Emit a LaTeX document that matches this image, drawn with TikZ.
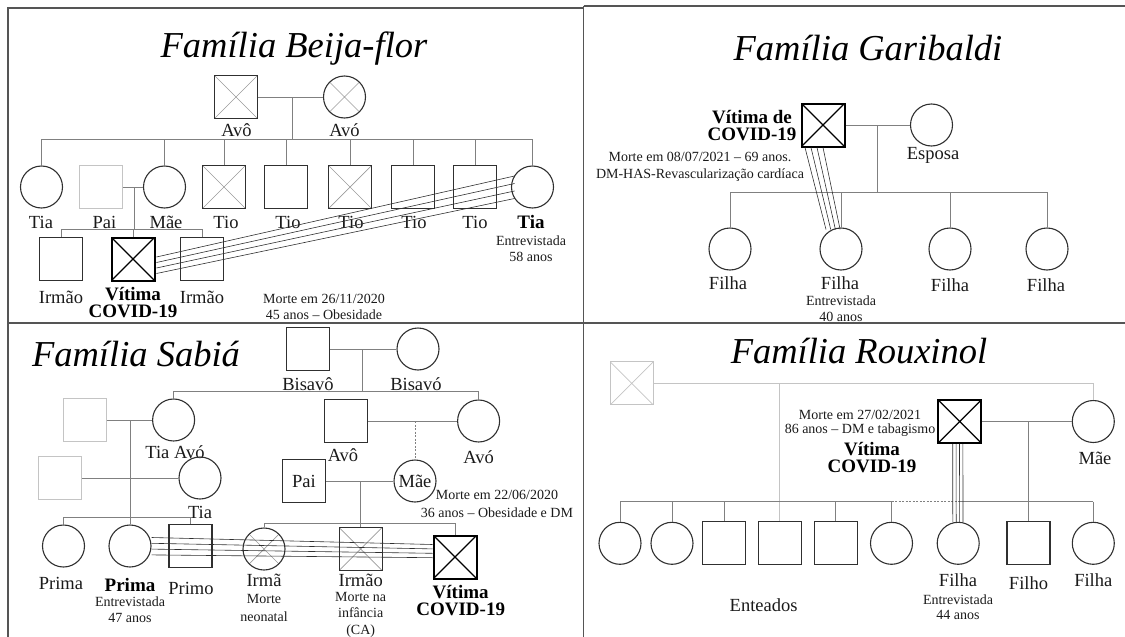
\documentclass[tikz,border=0pt]{standalone}
\usepackage{fontspec}
\setmainfont{Liberation Serif}
\usepackage{tikz}
\usetikzlibrary{calc}
\definecolor{kingray}{HTML}{808080}
\definecolor{fadegray}{HTML}{C4C4C4}
\definecolor{crossgray}{HTML}{9A9A9A}
\definecolor{shapeedge}{HTML}{303030}
\definecolor{panelgray}{HTML}{555555}
\definecolor{inkdark}{HTML}{1A1A1A}

\begin{document}
\begin{tikzpicture}[x=1pt, y=-1pt,
  male/.style={draw=shapeedge, line width=1.1pt, minimum width=43pt, minimum height=43pt, inner sep=0pt},
  female/.style={draw=shapeedge, line width=1.1pt, circle, minimum size=42pt, inner sep=0pt},
  faded/.style={draw=fadegray},
  deceased/.style={path picture={\draw[#1, line width=0.7pt]
      (path picture bounding box.north west) -- (path picture bounding box.south east)
      (path picture bounding box.north east) -- (path picture bounding box.south west);}},
  deceased/.default=crossgray,
  victim/.style={draw=black, line width=2pt, path picture={\draw[black, line width=1.2pt]
      (path picture bounding box.north west) -- (path picture bounding box.south east)
      (path picture bounding box.north east) -- (path picture bounding box.south west);}},
  kin/.style={draw=kingray, line width=0.9pt},
  kinfaded/.style={draw=fadegray, line width=0.9pt},
  consang/.style={draw=shapeedge, line width=0.6pt},
  lbl/.style={font=\fontsize{18.5}{20}\selectfont, text=inkdark, inner sep=0pt},
  boldlbl/.style={font=\fontsize{19}{17}\selectfont\bfseries, text=black, inner sep=0pt, align=center},
  note/.style={font=\fontsize{14}{15.5}\selectfont, text=inkdark, inner sep=0pt, align=center},
  ttl/.style={font=\fontsize{36.5}{38}\selectfont\itshape, anchor=base, inner sep=0pt},
  panel/.style={draw=panelgray, line width=1.6pt}]

\useasboundingbox (0,0) rectangle (1125,637);

% Panel frames
\draw[panel] (8,637) -- (8,8) -- (583.5,8);
\draw[panel] (583.5,6) -- (1125,6);
\draw[panel] (583.5,6) -- (583.5,637);
\draw[panel] (8,322.7) -- (1125,322.7);

%%% Familia Beija-flor
\node[ttl] (bftitle) at (294,57) {Família Beija-flor};

% grandparents
\node[male, deceased] (bfavo) at (236,97) {};
\node[female, deceased] (bfava) at (344.5,97) {};
\node[lbl] (bfavol) at (236.5,130) {Avô};
\node[lbl] (bfaval) at (344.5,130) {Avó};
\coordinate (bfmar) at (292,97);
\coordinate (bfsib) at (292,139);
\draw[kin] (bfavo) -- (bfava);
\draw[kin] (bfmar) -- (bfsib);

% children row
\node[female] (bftia) at (41.5,187) {};
\node[male, faded] (bfpai) at (101,187) {};
\node[female] (bfmae) at (164.5,187) {};
\node[male, deceased] (bftio1) at (224,187) {};
\node[male] (bftio2) at (286,187) {};
\node[male, deceased] (bftio3) at (350,187) {};
\node[male] (bftio4) at (413,187) {};
\node[male] (bftio5) at (475,187) {};
\node[female] (bftiae) at (532.5,187) {};
\draw[kin] (bftia.north |- bfsib) -- (bftiae.north |- bfsib);
\foreach \p in {bftia,bfmae,bftio1,bftio2,bftio3,bftio4,bftio5,bftiae}
  \draw[kin] (\p.north |- bfsib) -- (\p.north);

\node[lbl] (bftial) at (41,222) {Tia};
\node[lbl] (bfpail) at (104.5,222) {Pai};
\node[lbl] (bfmael) at (166,222) {Mãe};
\node[lbl] (bftio1l) at (226,222) {Tio};
\node[lbl] (bftio2l) at (288,222) {Tio};
\node[lbl] (bftio3l) at (351,222) {Tio};
\node[lbl] (bftio4l) at (414,222) {Tio};
\node[lbl] (bftio5l) at (475,222) {Tio};
\node[boldlbl] (bftiael) at (531,222) {Tia};
\node[note] (bfent) at (531,248.5) {Entrevistada\\58 anos};

% parents and siblings of the victim
\coordinate (bfmar2) at (134,187);
\coordinate (bfsib2) at (134,229);
\draw[kin] (bfpai) -- (bfmae);
\draw[kin] (bfmar2) -- (bfsib2);
\node[male] (bfirm1) at (61,259) {};
\node[male, victim] (bfvit) at (133,259) {};
\node[male] (bfirm2) at (202,259) {};
\draw[kin] (bfirm1.north |- bfsib2) -- (bfirm2.north |- bfsib2);
\foreach \p in {bfirm1,bfvit,bfirm2}
  \draw[kin] (\p.north |- bfsib2) -- (\p.north);

\node[lbl] (bfirm1l) at (61,297) {Irmão};
\node[boldlbl] (bfvitl) at (133,302.5) {Vítima\\COVID-19};
\node[lbl] (bfirm2l) at (202,297) {Irmão};
\node[note] (bfmorte) at (324,307) {Morte em 26/11/2020\\45 anos – Obesidade};

% consanguinity victim -- interviewee
\foreach \k in {0,...,3}
  \draw[consang] ($(bfvit.east)+(1,-2+5.5*\k)$) -- ($(bftiae.center)+(-18,-11+7.5*\k)$);

%%% Familia Garibaldi
\node[ttl] (gatitle) at (868,60) {Família Garibaldi};

\node[male, victim] (gavit) at (823,125) {};
\node[female] (gaesp) at (931.5,125) {};
\node[lbl] (gaespl) at (933,155) {Esposa};
\node[boldlbl] (gavitl) at (752,126) {Vítima de\\COVID-19};
\node[note, font=\fontsize{14}{17.3}\selectfont] (gamorte) at (700,166.5)
  {Morte em 08/07/2021 – 69 anos.\\DM-HAS-Revascularização cardíaca};
\coordinate (gamar) at (877,125);
\coordinate (gasib) at (877,192);
\draw[kin] (gavit) -- (gaesp);
\draw[kin] (gamar) -- (gasib);

\node[female] (gaf1) at (730,249) {};
\node[female] (gaf2) at (841,249) {};
\node[female] (gaf3) at (950,249) {};
\node[female] (gaf4) at (1047,249) {};
\draw[kin] (gaf1.north |- gasib) -- (gaf4.north |- gasib);
\foreach \p in {gaf1,gaf2,gaf3,gaf4}
  \draw[kin] (\p.north |- gasib) -- (\p.north);

\node[lbl] (gaf1l) at (728,283) {Filha};
\node[lbl] (gaf2l) at (840,283) {Filha};
\node[lbl] (gaf3l) at (950,285) {Filha};
\node[lbl] (gaf4l) at (1046,285) {Filha};
\node[note] (gaent) at (841,308.5) {Entrevistada\\40 anos};

\foreach \k in {0,...,3}
  \draw[consang] ($(gavit.south)+(-18+6*\k,0)$) -- ($(gaf2.north)+(-15+4.7*\k,2)$);

%%% Familia Sabia
\node[ttl] (sbtitle) at (136,366.7) {Família Sabiá};

% great-grandparents
\node[male] (sbbvo) at (308,349) {};
\node[female] (sbbva) at (418,349) {};
\node[lbl] (sbbvol) at (308,384) {Bisavô};
\node[lbl] (sbbval) at (416,384) {Bisavó};
\coordinate (sbmar) at (362.5,349);
\coordinate (sbsib) at (362.5,391);
\draw[kin] (sbbvo) -- (sbbva);
\draw[kin] (sbmar) -- (sbsib);

% grandparents generation
\node[male, faded] (sbtio) at (84.6,420) {};
\node[female] (sbtav) at (173.6,420) {};
\node[male] (sbavo) at (346,421) {};
\node[female] (sbava) at (478.6,421) {};
\draw[kin] (sbtav.north |- sbsib) -- (sbava.north |- sbsib);
\foreach \p in {sbtav,sbava}
  \draw[kin] (\p.north |- sbsib) -- (\p.north);
\draw[kin] (sbtio) -- (sbtav);
\draw[kin] (sbavo) -- (sbava);
\node[lbl] (sbtavl) at (175,452) {Tia Avó};
\node[lbl] (sbavol) at (343,455) {Avô};
\node[lbl] (sbaval) at (478.6,457) {Avó};

% parents generation
\node[male, faded] (sbtio2) at (60,478) {};
\node[female] (sbtia) at (200,478) {};
\node[male, lbl] (sbpai) at (304,481) {Pai};
\node[female, lbl] (sbmae) at (415,481) {Mãe};
\draw[kin] (sbtio2) -- (sbtia);
\draw[kin] (sbpai) -- (sbmae);
\coordinate (sbmar2) at (415,421);
\draw[kin, dash pattern=on 2pt off 1.5pt] (sbmar2) -- (sbmae.north);
\node[lbl] (sbtial) at (200,512) {Tia};
\node[note, font=\fontsize{14}{18}\selectfont] (sbmorte) at (497,504)
  {Morte em 22/06/2020\\36 anos – Obesidade e DM};

% children row
\node[female] (sbprima1) at (63.5,546) {};
\node[female] (sbprima2) at (130,546) {};
\node[male] (sbprimo) at (190.5,546) {};
\node[female, deceased] (sbirma) at (264,549) {};
\node[male, deceased] (sbirm) at (360.7,549) {};
\node[male, victim] (sbvit) at (455,557) {};

\coordinate (sbmar1) at (130,420);
\coordinate (sbsib2) at (130,517);
\draw[kin] (sbmar1) -- (sbprima2.north);
\draw[kin] (sbprima1.north |- sbsib2) -- (sbprimo.north |- sbsib2);
\foreach \p in {sbprima1,sbprimo}
  \draw[kin] (\p.north |- sbsib2) -- (\p.north);

\coordinate (sbmar3) at (360.7,481);
\coordinate (sbsib3) at (360.7,523);
\draw[kin] (sbmar3) -- (sbirm.north);
\draw[kin] (sbirma.north |- sbsib3) -- (sbvit.north |- sbsib3);
\foreach \p in {sbirma,sbvit}
  \draw[kin] (\p.north |- sbsib3) -- (\p.north);

\node[lbl] (sbprima1l) at (61,583.5) {Prima};
\node[boldlbl] (sbprima2l) at (130,585) {Prima};
\node[note] (sbent) at (130,609.5) {Entrevistada\\47 anos};
\node[lbl] (sbprimol) at (191,588.5) {Primo};
\node[lbl] (sbirmal) at (264,580) {Irmã};
\node[note, font=\fontsize{14}{17.4}\selectfont] (sbneo) at (264,608) {Morte\\neonatal};
\node[lbl] (sbirml) at (360.7,580) {Irmão};
\node[note, font=\fontsize{14}{16.5}\selectfont] (sbinf) at (360.7,614.5) {Morte na\\infância\\(CA)};
\node[boldlbl] (sbvitl) at (460.7,601) {Vítima\\COVID-19};

\foreach \k in {0,...,3}
  \draw[consang] ($(sbprima2.east)+(0,-8.5+5.8*\k)$) -- ($(sbvit.west)+(0,-12.5+4.4*\k)$);

%%% Familia Rouxinol
\node[ttl] (rotitle) at (859,363.3) {Família Rouxinol};

\node[male, faded, deceased=fadegray] (roex) at (631.7,383.3) {};
\node[male, victim] (rovit) at (959.7,421.5) {};
\node[female] (romae) at (1093.3,421.5) {};
\node[lbl] (romael) at (1095,458.5) {Mãe};
\node[note, font=\fontsize{14}{14.7}\selectfont] (romorte) at (860,423.3)
  {Morte em 27/02/2021\\86 anos – DM e tabagismo};
\node[boldlbl] (rovitl) at (872,458) {Vítima\\COVID-19};
\draw[kinfaded] (roex) -| (romae.north);
\draw[kin] (rovit) -- (romae);
\coordinate (romar) at (1028.5,421.5);

% children and stepchildren
\node[female] (roe1) at (620,543.3) {};
\node[female] (roe2) at (672,543.3) {};
\node[male] (roe3) at (724,543.3) {};
\node[male] (roe4) at (779.8,543.3) {};
\node[male] (roe5) at (835.7,543.3) {};
\node[female] (roe6) at (891.5,543.3) {};
\node[female] (rof1) at (958.2,543.3) {};
\node[male] (roson) at (1028.5,543.3) {};
\node[female] (rof2) at (1093.3,543.3) {};

\coordinate (rosib) at (779.8,501.5);
\draw[kinfaded] (roe4.north |- roex.east) -- (roe4.north);
\draw[kin] (roe1.north |- rosib) -- (roe6.north |- rosib);
\draw[kin, dash pattern=on 2pt off 1.5pt] (roe6.north |- rosib) -- (rof1.north |- rosib);
\draw[kin] (rof1.north |- rosib) -- (rof2.north |- rosib);
\foreach \p in {roe1,roe2,roe3,roe5,roe6,rof2}
  \draw[kin] (\p.north |- rosib) -- (\p.north);
\draw[kin] (romar) -- (roson.north);

\foreach \k in {0,...,3}
  \draw[consang] ($(rovit.south)+(-7+3.4*\k,0)$) -- ($(rof1.north)+(-5.4+3.4*\k,0)$);

\node[lbl] (rof1l) at (958,580) {Filha};
\node[note, font=\fontsize{14}{15}\selectfont] (roent) at (958,607.5) {Entrevistada\\44 anos};
\node[lbl] (rosonl) at (1028.5,583.5) {Filho};
\node[lbl] (rof2l) at (1093.3,580) {Filha};
\node[lbl] (roentl) at (763.6,605) {Enteados};

\end{tikzpicture}
\end{document}
